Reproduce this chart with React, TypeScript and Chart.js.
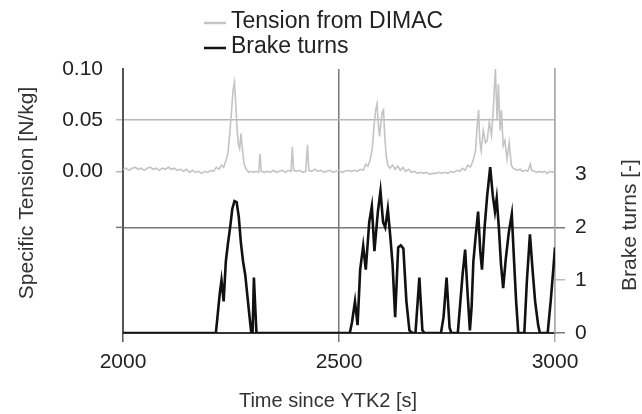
import { useEffect, useRef } from "react";
import { Chart, registerables } from "chart.js";

Chart.register(...registerables);

// Specific tension logged by the DIMAC unit [N/kg] against time [s]
const tensionTime = [
  2000, 2007, 2014, 2021, 2028, 2035, 2042, 2049, 2056, 2063, 2070, 2077, 2084, 2091, 2098, 2105,
  2112, 2119, 2126, 2133, 2140, 2147, 2154, 2161, 2168, 2175, 2182, 2189, 2196, 2203, 2210, 2216,
  2222, 2228, 2233, 2238, 2243, 2247, 2251, 2255, 2258, 2261, 2264, 2267, 2270, 2273, 2276, 2280,
  2285, 2291, 2297, 2303, 2309, 2314, 2317, 2320, 2327, 2334, 2341, 2348, 2355, 2362, 2369, 2376,
  2383, 2389, 2392, 2395, 2402, 2409, 2416, 2423, 2427, 2430, 2437, 2444, 2451, 2458, 2465, 2472,
  2479, 2486, 2493, 2500, 2507, 2514, 2521, 2528, 2535, 2542, 2549, 2556, 2562, 2567, 2572, 2577,
  2581, 2585, 2588, 2591, 2594, 2597, 2600, 2603, 2606, 2609, 2613, 2618, 2624, 2630, 2636, 2642,
  2648, 2654, 2661, 2668, 2675, 2682, 2689, 2696, 2703, 2710, 2717, 2724, 2731, 2738, 2745, 2752,
  2759, 2766, 2773, 2780, 2786, 2792, 2798, 2804, 2810, 2816, 2820, 2823, 2826, 2829, 2834, 2839,
  2843, 2848, 2853, 2857, 2862, 2866, 2869, 2873, 2876, 2880, 2884, 2889, 2894, 2899, 2903, 2908,
  2913, 2919, 2925, 2931, 2937, 2943, 2946, 2952, 2958, 2964, 2970, 2976, 2982, 2988, 2994, 3000,
];
const tensionValue = [
  0.002, 0.003, 0.001, 0.003, 0.004, 0.002, 0.003, 0.001, 0.003, 0.004, 0.002, 0.003, 0.001, 0.003, 0.002, 0.004,
  0.002, 0.003, 0.001, 0.002, 0.0, 0.002, -0.001, 0.001, -0.001, 0.0, -0.002, 0.0, -0.001, 0.001, 0.0, 0.004,
  0.002, 0.006, 0.004, 0.01, 0.018, 0.036, 0.058, 0.08, 0.087, 0.066, 0.042, 0.026, 0.022, 0.037, 0.024, 0.008,
  0.002, -0.001, 0.0, -0.001, 0.0, -0.001, 0.017, 0.0, -0.001, 0.0, -0.001, 0.001, -0.001, 0.0, 0.001, -0.001,
  0.001, 0.0, 0.024, 0.001, 0.0, 0.001, -0.001, 0.0, 0.026, 0.001, 0.0, 0.002, 0.0, 0.001, -0.001, 0.0,
  0.001, -0.001, 0.0, 0.001, -0.001, 0.0, 0.001, 0.0, 0.001, 0.0, 0.002, 0.001, 0.007, 0.005, 0.011, 0.022,
  0.044, 0.06, 0.066, 0.046, 0.034, 0.048, 0.058, 0.06, 0.034, 0.016, 0.006, 0.003, 0.006, 0.002, 0.005, 0.001,
  0.004, 0.0, 0.002, -0.001, 0.0, -0.002, -0.001, -0.002, -0.001, -0.003, -0.002, -0.002, -0.001, -0.002, -0.001, -0.002,
  0.0, -0.001, 0.001, 0.0, 0.003, 0.001, 0.006, 0.004, 0.01, 0.02, 0.045, 0.06, 0.03, 0.02, 0.04, 0.028,
  0.03, 0.048, 0.035, 0.06, 0.1, 0.05, 0.085, 0.04, 0.06, 0.025, 0.03, 0.012, 0.028, 0.006, 0.003, 0.002,
  0.001, 0.002, 0.0, 0.001, 0.0, 0.007, 0.001, 0.0, -0.001, 0.0, -0.001, 0.0, -0.002, 0.0, -0.001, 0.001,
];

// Brake turns [-] against time [s]
const brakeTime = [
  2000, 2215, 2218, 2224, 2228, 2233, 2238, 2243, 2248, 2253, 2258, 2263, 2268, 2273, 2278, 2283,
  2288, 2293, 2297, 2300, 2303, 2306, 2309, 2525, 2530, 2537, 2543, 2549, 2556, 2562, 2570, 2576,
  2582, 2590, 2596, 2602, 2607, 2613, 2619, 2624, 2630, 2637, 2643, 2649, 2656, 2663, 2670, 2677,
  2686, 2693, 2698, 2736, 2742, 2749, 2756, 2760, 2775, 2780, 2786, 2792, 2798, 2803, 2807, 2811,
  2816, 2822, 2827, 2831, 2837, 2843, 2850, 2856, 2861, 2865, 2870, 2875, 2880, 2886, 2893, 2900,
  2905, 2910, 2915, 2929, 2935, 2942, 2948, 2954, 2961, 2965, 2983, 2990, 2996, 3000,
];
const brakeValue = [
  0, 0, 0.25, 0.75, 1.0, 0.6, 1.35, 1.7, 2.0, 2.35, 2.5, 2.48, 2.2, 1.7, 1.35, 1.1,
  0.7, 0.3, 0, 0, 1.05, 0.5, 0, 0, 0.2, 0.6, 0.15, 1.2, 1.65, 1.2, 2.1, 2.4,
  1.55, 2.3, 2.69, 2.1, 2.0, 2.35, 1.8, 1.3, 0.3, 1.62, 1.66, 1.6, 0.6, 0.05, 0, 0,
  1.05, 0.05, 0, 0, 0.3, 1.05, 0.1, 0, 0, 0.5, 1.1, 1.58, 0.7, 0.05, 0.5, 1.35,
  1.8, 2.3, 1.55, 1.2, 2.0, 2.6, 3.14, 2.6, 2.3, 2.55, 2.0, 1.3, 0.85, 1.4, 1.9, 2.25,
  1.4, 0.6, 0, 0, 1.0, 1.87, 1.2, 0.6, 0.15, 0, 0, 0.6, 1.2, 1.62,
];

const timeTicks = [2000, 2500, 3000];
const tensionTicks = [0, 0.05, 0.1];
const brakeTicks = [0, 1, 2, 3];

const legendLabels = ["Tension from DIMAC", "Brake turns"];
const xTitle = "Time since YTK2 [s]";
const yTitle = "Specific Tension [N/kg]";
const y1Title = "Brake turns [-]";

const FONT = '"Liberation Sans", Arial, Helvetica, sans-serif';
const TENSION_COLOR = "#c4c4c4";
const BRAKE_COLOR = "#111111";
const TEXT_COLOR = "#222222";

// Legend, axis titles and the small overhang of the "2 turns" grid line
const decor = {
  id: "decor",
  afterDraw(chart: any) {
    const { ctx, chartArea, scales } = chart;
    ctx.save();

    // overhang of the brake-turn grid line at 2 to the left of the axis
    const y2 = scales.y1.getPixelForValue(2);
    ctx.strokeStyle = "#777";
    ctx.lineWidth = 1.5;
    ctx.beginPath();
    ctx.moveTo(chartArea.left - 7, y2);
    ctx.lineTo(chartArea.left, y2);
    ctx.stroke();

    // legend
    ctx.font = `23px ${FONT}`;
    ctx.textBaseline = "middle";
    ctx.textAlign = "left";
    const rows = [
      { label: legendLabels[0], color: TENSION_COLOR, y: 22 },
      { label: legendLabels[1], color: BRAKE_COLOR, y: 47 },
    ];
    for (const r of rows) {
      ctx.strokeStyle = r.color;
      ctx.lineWidth = 2.5;
      ctx.beginPath();
      ctx.moveTo(204, r.y + 1);
      ctx.lineTo(226, r.y + 1);
      ctx.stroke();
      ctx.fillStyle = TEXT_COLOR;
      ctx.fillText(r.label, 231, r.y);
    }

    // axis titles
    ctx.font = `20px ${FONT}`;
    ctx.fillStyle = "#333";
    ctx.textAlign = "center";
    ctx.textBaseline = "middle";
    ctx.fillText(xTitle, 328, 401);

    ctx.font = `21px ${FONT}`;
    ctx.save();
    ctx.translate(27, 193);
    ctx.rotate(-Math.PI / 2);
    ctx.fillText(yTitle, 0, 0);
    ctx.restore();

    ctx.save();
    ctx.translate(630, 225);
    ctx.rotate(-Math.PI / 2);
    ctx.fillText(y1Title, 0, 0);
    ctx.restore();

    ctx.restore();
  },
};

export default function App() {
  const canvasRef = useRef<HTMLCanvasElement | null>(null);

  useEffect(() => {
    const canvas = canvasRef.current;
    if (!canvas) return;

    const tickFont = { family: FONT, size: 21 };

    const chart = new Chart(canvas, {
      type: "line",
      data: {
        datasets: [
          {
            label: legendLabels[1],
            data: brakeTime.map((t, i) => ({ x: t, y: brakeValue[i] })),
            yAxisID: "y1",
            borderColor: BRAKE_COLOR,
            borderWidth: 2.6,
            pointRadius: 0,
            tension: 0,
          },
          {
            label: legendLabels[0],
            data: tensionTime.map((t, i) => ({ x: t, y: tensionValue[i] })),
            yAxisID: "y",
            borderColor: TENSION_COLOR,
            borderWidth: 1.6,
            pointRadius: 0,
            tension: 0,
          },
        ],
      },
      options: {
        animation: false,
        responsive: false,
        maintainAspectRatio: false,
        events: [],
        layout: { padding: { top: 69, left: 0, right: 0, bottom: 0 } },
        plugins: {
          legend: { display: false },
          tooltip: { enabled: false },
          title: { display: false },
        },
        scales: {
          x: {
            type: "linear",
            min: 2000,
            max: 3000,
            afterBuildTicks: (s: any) => {
              s.ticks = timeTicks.map((v) => ({ value: v }));
            },
            afterFit: (s: any) => {
              s.height = 81;
            },
            ticks: {
              font: tickFont,
              color: TEXT_COLOR,
              padding: 8,
              maxRotation: 0,
              autoSkip: false,
              callback: (v: any) => String(v),
            },
            grid: {
              color: (c: any) =>
                c.tick && c.tick.value === 2500 ? "#777" : c.tick && c.tick.value === 3000 ? "#aaa" : "#555",
              lineWidth: 1.5,
              drawTicks: true,
              tickLength: 9,
            },
            border: { display: true, color: "#333", width: 2 },
          },
          y: {
            position: "left",
            min: -0.158,
            max: 0.1,
            afterBuildTicks: (s: any) => {
              s.ticks = tensionTicks.map((v) => ({ value: v }));
            },
            afterFit: (s: any) => {
              s.width = 123;
            },
            ticks: {
              font: tickFont,
              color: TEXT_COLOR,
              padding: 13,
              callback: (v: any) => Number(v).toFixed(2),
            },
            grid: {
              color: (c: any) => (c.tick && Math.abs(c.tick.value - 0.05) < 1e-9 ? "#b8b8b8" : "rgba(0,0,0,0)"),
              tickColor: (c: any) => (c.tick && c.tick.value < 0.09 ? "#b8b8b8" : "rgba(0,0,0,0)"),
              lineWidth: 1.5,
              drawTicks: true,
              tickLength: 7,
            },
            border: { display: true, color: "#555", width: 2 },
          },
          y1: {
            position: "right",
            min: 0,
            max: 5,
            afterBuildTicks: (s: any) => {
              s.ticks = brakeTicks.map((v) => ({ value: v }));
            },
            afterFit: (s: any) => {
              s.width = 87;
            },
            ticks: {
              font: tickFont,
              color: TEXT_COLOR,
              padding: 10,
              callback: (v: any) => String(v),
            },
            grid: {
              color: (c: any) => (c.tick && c.tick.value === 2 ? "#777" : "rgba(0,0,0,0)"),
              tickColor: (c: any) =>
                c.tick && c.tick.value === 2 ? "#777" : c.tick && c.tick.value === 0 ? "#777" : c.tick && c.tick.value === 1 ? "#bbb" : "rgba(0,0,0,0)",
              lineWidth: 1.5,
              drawTicks: true,
              tickLength: 10,
            },
            border: { display: true, color: "#aaa", width: 1.5 },
          },
        },
      },
      plugins: [decor],
    } as any);

    return () => {
      chart.destroy();
    };
  }, []);

  return (
    <div style={{ position: "fixed", left: 0, top: 0, width: 642, height: 414, background: "#fff" }}>
      <canvas ref={canvasRef} width={642} height={414} style={{ display: "block", width: 642, height: 414 }} />
    </div>
  );
}
